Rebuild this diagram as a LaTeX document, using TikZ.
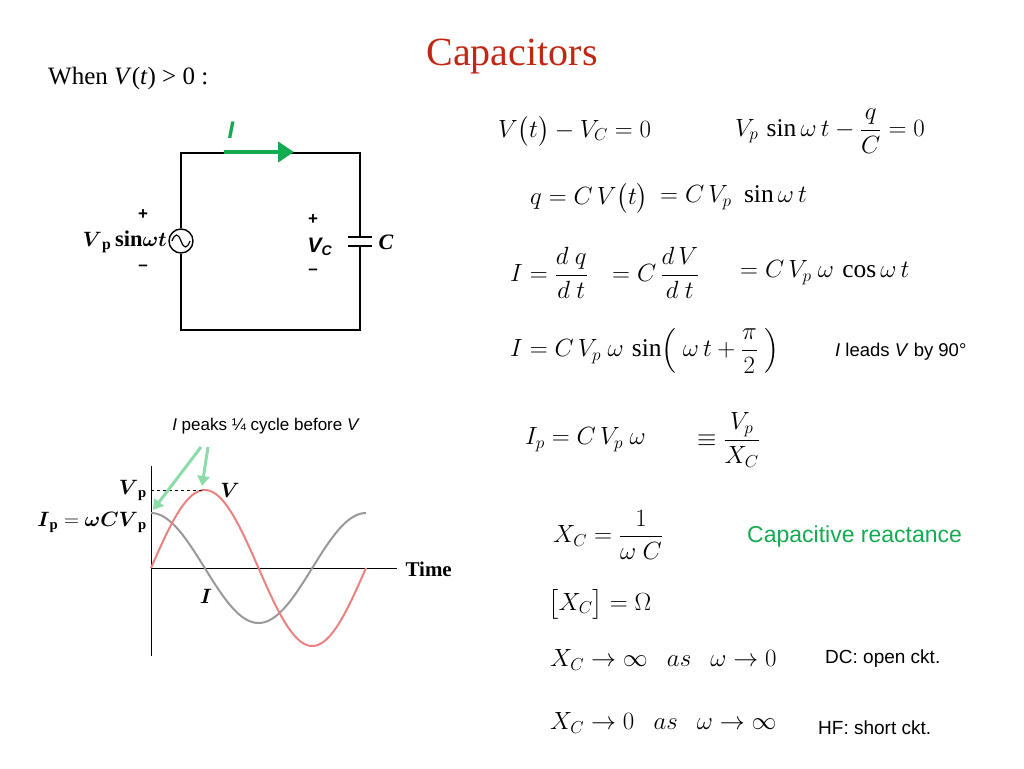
\documentclass[tikz,border=0pt]{standalone}
\usepackage{amsmath}
\usepackage{fontspec}
\setmainfont{Liberation Serif}
\setsansfont{Liberation Sans}
\usetikzlibrary{arrows.meta}
\definecolor{titlered}{RGB}{192,40,20}
\definecolor{grn}{RGB}{20,170,80}
\definecolor{lgrn}{RGB}{140,220,170}
\definecolor{vred}{RGB}{235,130,130}
\tikzset{
 eq/.style={anchor=west,font=\fontsize{25.5}{30}\selectfont,inner sep=0},
 lab/.style={anchor=west,font=\sffamily\fontsize{19.5}{22}\selectfont,inner sep=0},
 wire/.style={line width=1.6pt},
 cl/.style={font=\bfseries\fontsize{21}{24}\selectfont,inner sep=1pt},
}
\begin{document}
\begin{tikzpicture}[x=1pt,y=-1pt]
\useasboundingbox (0,0) rectangle (1024,768);
\node[font=\fontsize{40}{44}\selectfont,text=titlered] (title) at (512,57) {Capacitors};
\node[anchor=west,font=\fontsize{25}{28}\selectfont,inner sep=0] (when) at (48,78) {When \textit{V}(\textit{t}) > 0 :};
% circuit
\coordinate (tl) at (181,153); \coordinate (tr) at (360,153);
\coordinate (bl) at (181,330); \coordinate (br) at (360,330);
\node[draw,circle,line width=1.4pt,minimum size=24pt,inner sep=0] (src) at (181,241) {};
\draw[line width=1.2pt] (172,241) .. controls (175,233) and (178,233) .. (181,241) .. controls (184,249) and (187,249) .. (190,241);
\coordinate (cp1) at (360,237); \coordinate (cp2) at (360,246);
\draw[wire] (src.north) -- (tl) -- (tr) -- (cp1);
\draw[wire] (cp2) -- (br) -- (bl) -- (src.south);
\draw[line width=2pt] (348,237) -- (372,237) (348,246) -- (372,246);
\draw[grn,line width=4pt,-{Triangle[length=16pt,width=20pt]}] (224,152) -- (294,152);
\node[text=grn,font=\sffamily\bfseries\itshape\fontsize{24}{26}\selectfont] (ilab) at (231,130) {I};
\node[font=\sffamily\bfseries\fontsize{17}{17}\selectfont] (p1) at (143,215) {+};
\node[font=\sffamily\bfseries\fontsize{17}{17}\selectfont] (m1) at (143,268) {--};
\node[cl,anchor=east,font=\bfseries\fontsize{22.5}{24}\selectfont] (vs) at (168,242) {$\boldsymbol{V}_{\mathrm{\bf p}}$\,sin$\boldsymbol{\omega t}$};
\node[font=\sffamily\bfseries\fontsize{17}{17}\selectfont] (p2) at (313,220) {+};
\node[font=\sffamily\bfseries\itshape\fontsize{21}{21}\selectfont] (vc) at (320,247) {V\textsubscript{\fontsize{14}{14}\selectfont C}};
\node[font=\sffamily\bfseries\fontsize{17}{17}\selectfont] (m2) at (313,272) {--};
\node[cl,font=\bfseries\itshape\fontsize{22}{24}\selectfont] (clab) at (386,242) {C};
% graph
\node[lab,anchor=center,font=\sffamily\fontsize{17}{20}\selectfont] (peaks) at (266,426) {\textit{I} peaks \char"00BC\ cycle before \textit{V}};
\coordinate (yt) at (151,466); \coordinate (yb) at (151,656);
\coordinate (o) at (151,568); \coordinate (xe) at (397,568);
\draw[line width=1pt] (yt) -- (yb);
\draw[line width=1pt] (o) -- (xe);
\node[anchor=west,font=\bfseries\fontsize{21}{24}\selectfont] (time) at (402,569) {Time};
\draw[gray!80,line width=2pt,domain=0:215,samples=100] plot ({151+\x},{568-55*cos(\x/215*360)});
\draw[vred,line width=2pt,domain=0:215,samples=100] plot ({151+\x},{568-78*sin(\x/215*360)});
\draw[dashed,line width=0.8pt] (151,490) -- (203,490);
\node[cl,anchor=east] (vp) at (148,490) {$\boldsymbol{V}_{\mathrm{\bf p}}$};
\node[cl] (vl) at (230,490) {$\boldsymbol{V}$};
\node[cl,anchor=east] (ip) at (148,522) {$\boldsymbol{I}_{\mathrm{\bf p}} = \boldsymbol{\omega C V}_{\mathrm{\bf p}}$};
\node[cl] (il) at (206,596) {$\boldsymbol{I}$};
\coordinate (a1s) at (201,447); \coordinate (a1e) at (153,510);
\coordinate (a2s) at (208,447); \coordinate (a2e) at (202,486);
\draw[lgrn,line width=3pt,-{Triangle[length=10pt,width=12pt]}] (a1s) -- (a1e);
\draw[lgrn,line width=3pt,-{Triangle[length=10pt,width=12pt]}] (a2s) -- (a2e);
% equations
\node[eq] (e1) at (498,131) {$V\bigl(t\bigr) - V_C = 0$};
\node[eq] (e2) at (735,131) {$V_p\,\sin\omega\, t - \dfrac{q}{C} = 0$};
\node[eq] (e3) at (530,198) {$q = C\,V\bigl(t\bigr)$};
\node[eq] (e4) at (660,198) {$= C\,V_p\,\,\sin\omega\, t$};
\node[eq] (e5) at (510,273) {$I = \dfrac{d\ q}{d\ t}$};
\node[eq] (e6) at (612,273) {$= C\,\dfrac{d\,V}{d\ t}$};
\node[eq] (e7) at (740,273) {$= C\,V_p\ \omega\,\cos\omega\, t$};
\node[eq] (e8) at (510,351) {$I = C\,V_p\ \omega\,\sin\!\left(\ \omega\,t + \dfrac{\pi}{2}\ \right)$};
\node[lab,font=\sffamily\fontsize{18.5}{20}\selectfont] (lead) at (835,352) {\textit{I} leads \textit{V} by 90°};
\node[eq] (e9) at (525,440) {$I_p = C\,V_p\ \omega$};
\node[eq] (e10) at (697,440) {$\equiv \dfrac{V_p}{X_C}$};
\node[eq] (e11) at (553,535) {$X_C = \dfrac{1}{\omega\ C}$};
\node[lab,text=grn,font=\sffamily\fontsize{23}{26}\selectfont] (cr) at (747,537) {Capacitive reactance};
\node[eq] (e12) at (548,604) {$\bigl[X_C\bigr] = \Omega$};
\node[eq] (e13) at (550,660) {$X_C \to \infty\ \ \ as\ \ \ \omega\to 0$};
\node[lab,font=\sffamily\fontsize{19}{22}\selectfont] (dc) at (825,659) {DC: open ckt.};
\node[eq] (e14) at (550,723) {$X_C \to 0\ \ \ as\ \ \ \omega\to \infty$};
\node[lab,font=\sffamily\fontsize{19}{22}\selectfont] (hf) at (818,728) {HF: short ckt.};
\end{tikzpicture}
\end{document}
